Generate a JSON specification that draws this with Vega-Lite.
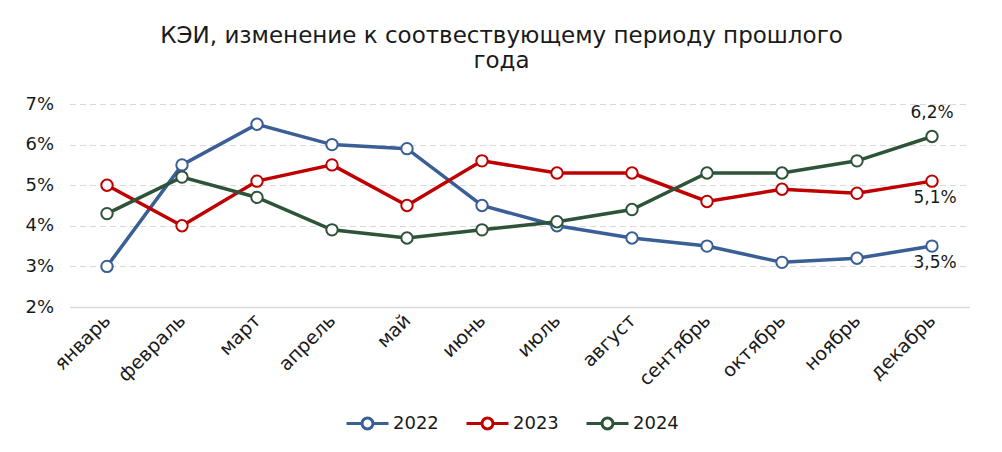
{
  "$schema": "https://vega.github.io/schema/vega-lite/v6.json",
  "autosize": "none",
  "width": 900,
  "height": 203,
  "padding": {"left": 69.5, "top": 104, "right": 32.5, "bottom": 145},
  "background": "white",
  "config": {
    "font": "DejaVu Sans",
    "view": {"stroke": null}
  },
  "title": {
    "text": ["КЭИ, изменение к соотвествующему периоду прошлого", "года"],
    "fontSize": 23,
    "fontWeight": "normal",
    "color": "#1a1a1a",
    "anchor": "middle",
    "dx": -18,
    "offset": 22,
    "lineHeight": 25
  },
  "data": {
    "values": [
      {"month": "январь", "year": "2022", "v": 3.0},
      {"month": "февраль", "year": "2022", "v": 5.5},
      {"month": "март", "year": "2022", "v": 6.5},
      {"month": "апрель", "year": "2022", "v": 6.0},
      {"month": "май", "year": "2022", "v": 5.9},
      {"month": "июнь", "year": "2022", "v": 4.5},
      {"month": "июль", "year": "2022", "v": 4.0},
      {"month": "август", "year": "2022", "v": 3.7},
      {"month": "сентябрь", "year": "2022", "v": 3.5},
      {"month": "октябрь", "year": "2022", "v": 3.1},
      {"month": "ноябрь", "year": "2022", "v": 3.2},
      {"month": "декабрь", "year": "2022", "v": 3.5},
      {"month": "январь", "year": "2023", "v": 5.0},
      {"month": "февраль", "year": "2023", "v": 4.0},
      {"month": "март", "year": "2023", "v": 5.1},
      {"month": "апрель", "year": "2023", "v": 5.5},
      {"month": "май", "year": "2023", "v": 4.5},
      {"month": "июнь", "year": "2023", "v": 5.6},
      {"month": "июль", "year": "2023", "v": 5.3},
      {"month": "август", "year": "2023", "v": 5.3},
      {"month": "сентябрь", "year": "2023", "v": 4.6},
      {"month": "октябрь", "year": "2023", "v": 4.9},
      {"month": "ноябрь", "year": "2023", "v": 4.8},
      {"month": "декабрь", "year": "2023", "v": 5.1},
      {"month": "январь", "year": "2024", "v": 4.3},
      {"month": "февраль", "year": "2024", "v": 5.2},
      {"month": "март", "year": "2024", "v": 4.7},
      {"month": "апрель", "year": "2024", "v": 3.9},
      {"month": "май", "year": "2024", "v": 3.7},
      {"month": "июнь", "year": "2024", "v": 3.9},
      {"month": "июль", "year": "2024", "v": 4.1},
      {"month": "август", "year": "2024", "v": 4.4},
      {"month": "сентябрь", "year": "2024", "v": 5.3},
      {"month": "октябрь", "year": "2024", "v": 5.3},
      {"month": "ноябрь", "year": "2024", "v": 5.6},
      {"month": "декабрь", "year": "2024", "v": 6.2}
    ]
  },
  "encoding": {
    "x": {
      "field": "month",
      "type": "ordinal",
      "sort": null,
      "scale": {"type": "point", "padding": 0.5},
      "axis": {
        "title": null,
        "labelAngle": -45,
        "labelAlign": "right",
        "labelBaseline": "middle",
        "labelFontSize": 19,
        "labelColor": "#1a1a1a",
        "labelPadding": 10,
        "ticks": false,
        "domain": true,
        "domainColor": "#d9d9d9",
        "domainWidth": 1.5,
        "grid": false
      }
    },
    "y": {
      "field": "v",
      "type": "quantitative",
      "scale": {"domain": [2, 7], "nice": false, "zero": false},
      "axis": {
        "title": null,
        "values": [2, 3, 4, 5, 6, 7],
        "labelExpr": "datum.value + '%'",
        "labelFontSize": 18,
        "labelColor": "#1a1a1a",
        "labelPadding": 16,
        "ticks": false,
        "domain": false,
        "grid": true,
        "gridColor": "#d9d9d9",
        "gridDash": [6, 4],
        "gridWidth": 1
      }
    }
  },
  "layer": [
    {
      "mark": {
        "type": "line",
        "strokeWidth": 3.5,
        "point": {"filled": false, "fill": "white", "size": 130, "strokeWidth": 2}
      },
      "encoding": {
        "color": {
          "field": "year",
          "type": "nominal",
          "scale": {"domain": ["2022", "2023", "2024"], "range": ["#3A5E96", "#C00000", "#2D5338"]},
          "legend": {
            "title": null,
            "orient": "none",
            "direction": "horizontal",
            "legendX": 275.5,
            "legendY": 297,
            "symbolType": "M-1,0 H-0.26 M0.26,0 H1 M-0.26,0 A0.26,0.26 0 1,0 0.26,0 A0.26,0.26 0 1,0 -0.26,0",
            "symbolSize": 1764,
            "symbolFillColor": "white",
            "symbolStrokeWidth": 3,
            "labelFontSize": 18,
            "labelColor": "#1a1a1a",
            "labelOffset": 3,
            "columnPadding": 21
          }
        }
      }
    },
    {
      "transform": [
        {"filter": "datum.month == 'декабрь' && datum.year == '2024'"},
        {"calculate": "replace(format(datum.v, '.1f'), '.', ',') + '%'", "as": "lbl"}
      ],
      "mark": {"type": "text", "dy": -23, "fontSize": 17, "color": "#1a1a1a"},
      "encoding": {"text": {"field": "lbl"}}
    },
    {
      "transform": [
        {"filter": "datum.month == 'декабрь' && datum.year != '2024'"},
        {"calculate": "replace(format(datum.v, '.1f'), '.', ',') + '%'", "as": "lbl"}
      ],
      "mark": {"type": "text", "dy": 17, "dx": 3, "fontSize": 17, "color": "#1a1a1a"},
      "encoding": {"text": {"field": "lbl"}}
    }
  ]
}
